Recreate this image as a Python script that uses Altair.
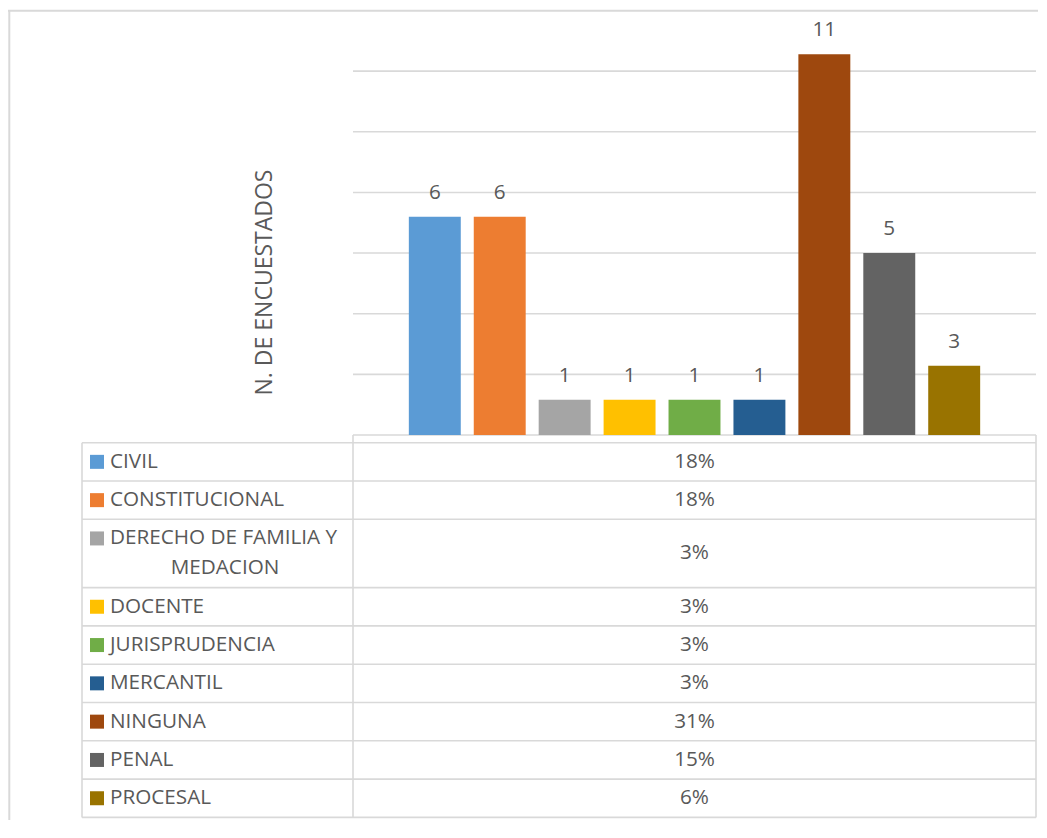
import altair as alt
import pandas as pd

# ---------------- data ----------------
categories = ["CIVIL", "CONSTITUCIONAL", "DERECHO DE FAMILIA Y MEDACION", "DOCENTE",
              "JURISPRUDENCIA", "MERCANTIL", "NINGUNA", "PENAL", "PROCESAL"]
label_lines = [["CIVIL"], ["CONSTITUCIONAL"], ["DERECHO DE FAMILIA Y", "MEDACION"], ["DOCENTE"],
               ["JURISPRUDENCIA"], ["MERCANTIL"], ["NINGUNA"], ["PENAL"], ["PROCESAL"]]
counts = [6, 6, 1, 1, 1, 1, 11, 5, 3]
bar_heights = [18.0, 18.0, 2.9, 2.9, 2.9, 2.9, 31.4, 15.0, 5.7]  # heights on the unlabeled value axis
pct_labels = ["18%", "18%", "3%", "3%", "3%", "3%", "31%", "15%", "6%"]
colors = ["#5B9BD5", "#ED7D31", "#A5A5A5", "#FFC000", "#70AD47",
          "#255E91", "#9E480E", "#636363", "#997300"]
grid_values = [0, 5, 10, 15, 20, 25, 30]
value_domain = [0, 35]
axis_title = "N. DE ENCUESTADOS"

# ---------------- layout / style ----------------
W, H = 1030, 812
FONT = "Open Sans"
FS = 20.7
TXT = "#595959"
LINE = "#D9D9D9"
LW = 1.6
BORDER_X, BORDER_Y = 1.3, 2.7
PLOT_X0, PLOT_X1 = 345, 1028
BASE_Y, TOP_Y = 427, 2.5
TABLE_X0, TABLE_Y0 = 74, 434.7
LINE_H, ROW_PAD = 30, 8.3
KEY_X, LABEL_X, WRAP_X = 89, 102, 217
VALUE_X = (PLOT_X0 + PLOT_X1) / 2
TITLE_X, TITLE_Y = 257, 274.5

# ---------------- bar chart part ----------------
bars_df = pd.DataFrame({"cat": categories, "val": bar_heights, "n": counts})
grid_df = pd.DataFrame({"g": grid_values})

xs = alt.Scale(domain=categories, range=[PLOT_X0, PLOT_X1], paddingInner=0.2, paddingOuter=0.86)
ys = alt.Scale(domain=value_domain, range=[BASE_Y, TOP_Y], nice=False, zero=True)
cs = alt.Scale(domain=categories, range=colors)

grid = alt.Chart(grid_df).mark_rule(color=LINE, strokeWidth=LW).encode(
    y=alt.Y("g:Q", scale=ys, axis=None),
    x=alt.value(PLOT_X0), x2=alt.value(PLOT_X1),
)
bars = alt.Chart(bars_df).mark_bar().encode(
    x=alt.X("cat:N", sort=categories, scale=xs, axis=None),
    y=alt.Y("val:Q", scale=ys, axis=None),
    color=alt.Color("cat:N", scale=cs, legend=None),
)
counts_txt = alt.Chart(bars_df).mark_text(
    font=FONT, fontSize=FS, color=TXT, baseline="middle", dy=-24
).encode(
    x=alt.X("cat:N", sort=categories, scale=xs, axis=None),
    y=alt.Y("val:Q", scale=ys, axis=None),
    text="n:Q",
)
bar_part = alt.layer(grid, bars, counts_txt)

# ---------------- data table part ----------------
rows = []
top = 0.0
for cat, lines, pct in zip(categories, label_lines, pct_labels):
    h = LINE_H * len(lines) + ROW_PAD
    rows.append({"cat": cat, "top": top, "bot": top + h, "mid": top + h / 2,
                 "first": top + h / 2 - (len(lines) - 1) * LINE_H / 2, "pct": pct})
    top += h
total = top
rows_df = pd.DataFrame(rows)
line_rows = []
for r, lines in zip(rows, label_lines):
    for i, t in enumerate(lines):
        line_rows.append({"t": t, "y": r["first"] + i * LINE_H, "first": i == 0})
lines_df = pd.DataFrame(line_rows)
bounds_df = pd.DataFrame({"b": [0.0] + [r["bot"] for r in rows]})

ts = alt.Scale(domain=[0, total], range=[TABLE_Y0, TABLE_Y0 + total], nice=False, zero=False)

hlines = alt.Chart(bounds_df).mark_rule(color=LINE, strokeWidth=LW).encode(
    y=alt.Y("b:Q", scale=ts, axis=None),
    x=alt.value(TABLE_X0), x2=alt.value(PLOT_X1),
)
keys = alt.Chart(rows_df).mark_square(size=196, opacity=1, filled=True).encode(
    y=alt.Y("first:Q", scale=ts, axis=None),
    x=alt.value(KEY_X),
    color=alt.Color("cat:N", scale=cs, legend=None),
)
first_lines = alt.Chart(lines_df).transform_filter("datum.first").mark_text(
    font=FONT, fontSize=FS, color=TXT, align="left", baseline="middle"
).encode(y=alt.Y("y:Q", scale=ts, axis=None), x=alt.value(LABEL_X), text="t:N")
wrap_lines = alt.Chart(lines_df).transform_filter("!datum.first").mark_text(
    font=FONT, fontSize=FS, color=TXT, align="center", baseline="middle"
).encode(y=alt.Y("y:Q", scale=ts, axis=None), x=alt.value(WRAP_X), text="t:N")
values = alt.Chart(rows_df).mark_text(
    font=FONT, fontSize=FS, color=TXT, align="center", baseline="middle"
).encode(y=alt.Y("mid:Q", scale=ts, axis=None), x=alt.value(VALUE_X), text="pct:N")
table_part = alt.layer(hlines, keys, first_lines, wrap_lines, values)

# ---------------- frame lines and axis title ----------------
one = pd.DataFrame({"t": [axis_title]})
TBOT = TABLE_Y0 + total
frame = [
    alt.Chart(one).mark_rule(color=LINE, strokeWidth=2).encode(
        x=alt.value(BORDER_X), y=alt.value(BORDER_Y), y2=alt.value(H)),
    alt.Chart(one).mark_rule(color=LINE, strokeWidth=2).encode(
        x=alt.value(0), x2=alt.value(W), y=alt.value(BORDER_Y)),
    alt.Chart(one).mark_rule(color=LINE, strokeWidth=LW).encode(
        x=alt.value(PLOT_X0), y=alt.value(BASE_Y), y2=alt.value(TBOT)),
    alt.Chart(one).mark_rule(color=LINE, strokeWidth=LW).encode(
        x=alt.value(PLOT_X1), y=alt.value(BASE_Y), y2=alt.value(TBOT)),
    alt.Chart(one).mark_rule(color=LINE, strokeWidth=LW).encode(
        x=alt.value(TABLE_X0), y=alt.value(TABLE_Y0), y2=alt.value(TBOT)),
    alt.Chart(one).mark_text(font=FONT, fontSize=23, color=TXT, angle=270,
                             align="center", baseline="middle").encode(
        x=alt.value(TITLE_X), y=alt.value(TITLE_Y), text="t:N"),
]

chart = alt.layer(bar_part, table_part, *frame).resolve_scale(
    x="independent", y="independent", color="independent"
).properties(
    width=W, height=H, autosize=alt.AutoSizeParams(type="none"), padding=0,
    background="white",
).configure_view(stroke=None)

chart.save("out.html", embed_options={"renderer": "svg", "actions": False})
